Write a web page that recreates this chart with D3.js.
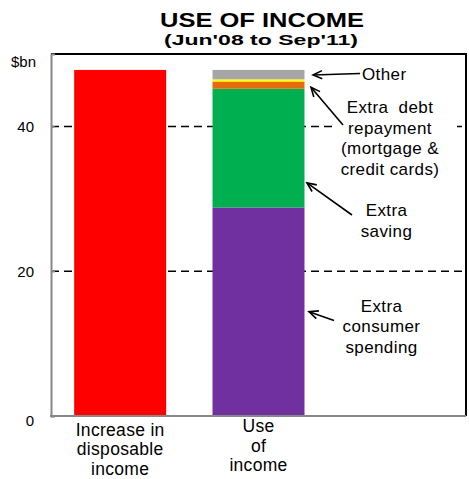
<!DOCTYPE html>
<html>
<head>
<meta charset="utf-8">
<script src="https://cdn.jsdelivr.net/npm/d3@7"></script>
<style>
  html, body { margin: 0; padding: 0; background: #fff; }
  svg { display: block; font-family: "Liberation Sans", Arial, sans-serif; }
  .note { white-space: pre; }
</style>
</head>
<body>
<svg id="chart" width="469" height="479"></svg>
<script>
// Categories along the x axis (third slot left empty)
const categories = ["income", "use", "blank"];
const categoryLabels = [["Increase in", "disposable", "income"], ["Use", "of", "income"], []];

// Single bar: increase in disposable income ($bn)
const incomeIncrease = 47.8;

// Stacked bar: how the extra income was used ($bn), bottom to top
const useSegments = ["Extra consumer spending", "Extra saving", "Mortgage repayment", "Credit card repayment", "Other"];
const useValues = [28.8, 16.4, 1.0, 0.3, 1.3];
const useColors = ["#7030A0", "#00B050", "#E46C0A", "#FFFF00", "#A6A6A6"];

// Y axis ticks
const yTicks = [0, 20, 40];
const gridTicks = [20, 40];

const svg = d3.select("#chart");
const margin = { left: 51, right: 3, top: 54, bottom: 63 };
const W = 469, H = 479;

const x = d3.scaleBand()
  .domain(categories)
  .range([margin.left, W - margin.right])
  .paddingInner(0.335)
  .paddingOuter(0.1675);

const y = d3.scaleLinear()
  .domain([0, 50])
  .range([H - margin.bottom, margin.top]);

// Title (wide, stretched lettering)
svg.append("text")
  .attr("x", 160).attr("y", 27)
  .attr("font-size", 20).attr("font-weight", "bold")
  .attr("textLength", 204).attr("lengthAdjust", "spacingAndGlyphs")
  .text("USE OF INCOME");
svg.append("text")
  .attr("x", 164).attr("y", 45)
  .attr("font-size", 14.5).attr("font-weight", "bold")
  .attr("textLength", 194).attr("lengthAdjust", "spacingAndGlyphs")
  .text("(Jun'08 to Sep'11)");

// Dashed gridlines
svg.append("g").selectAll("line")
  .data(gridTicks)
  .join("line")
  .attr("x1", margin.left).attr("x2", W - margin.right)
  .attr("y1", d => y(d)).attr("y2", d => y(d))
  .attr("stroke", "#000").attr("stroke-width", 1.5)
  .attr("stroke-dasharray", "8,5");

// Frame: black top and right edges
svg.append("path")
  .attr("d", `M${margin.left},${y(50)}H${W - margin.right}V${y(0)}`)
  .attr("fill", "none").attr("stroke", "#000").attr("stroke-width", 2);

// Bars
svg.append("rect")
  .attr("x", x("income")).attr("width", x.bandwidth())
  .attr("y", y(incomeIncrease)).attr("height", y(0) - y(incomeIncrease))
  .attr("fill", "#FF0000");

const stacked = [];
let acc = 0;
useValues.forEach((v, i) => { stacked.push({ y0: acc, y1: acc + v, color: useColors[i], name: useSegments[i] }); acc += v; });
svg.append("g").selectAll("rect")
  .data(stacked)
  .join("rect")
  .attr("x", x("use")).attr("width", x.bandwidth())
  .attr("y", d => y(d.y1)).attr("height", d => y(d.y0) - y(d.y1))
  .attr("fill", d => d.color);

// Left axis
const yAxis = svg.append("g")
  .attr("transform", `translate(${margin.left},0)`)
  .call(d3.axisLeft(y).tickValues(yTicks).tickSize(-4).tickPadding(17).tickFormat(d3.format("d")));
yAxis.select(".domain").attr("stroke", "#888").attr("stroke-width", 2);
yAxis.selectAll(".tick line").attr("stroke", "#888").attr("stroke-width", 1.5);
yAxis.selectAll(".tick text").attr("font-size", 15).attr("fill", "#000")
  .attr("font-family", "Liberation Sans, Arial, sans-serif");
yAxis.select(".tick text").attr("dy", "0.6em");

svg.append("text")
  .attr("x", 36).attr("y", 66.5)
  .attr("text-anchor", "end").attr("font-size", 15)
  .text("$bn");

// Bottom axis line
svg.append("line")
  .attr("x1", margin.left - 1).attr("x2", W - margin.right)
  .attr("y1", y(0)).attr("y2", y(0))
  .attr("stroke", "#888").attr("stroke-width", 2);

// Category labels
const labelBase = [435.5, 432];
categories.forEach((c, i) => {
  const cx = x(c) + x.bandwidth() / 2;
  const t = svg.append("text")
    .attr("text-anchor", "middle").attr("font-size", 17.5)
    .attr("letter-spacing", 0.3);
  categoryLabels[i].forEach((line, j) => {
    t.append("tspan").attr("x", cx).attr("y", labelBase[i] + j * 19.7).text(line);
  });
});

// Annotations with arrows pointing at stack segments
const annotations = [
  { lines: ["Other"], anchor: "start", tx: 362, ty: 80, head: [313, 47.1], tail: [360, 73.5] },
  { lines: ["Extra  debt", "repayment", "(mortgage &", "credit cards)"], anchor: "middle", tx: 390, ty: 113, head: [311, 45.4], tail: [343, 125], box: [336, 96, 121, 86] },
  { lines: ["Extra", "saving"], anchor: "middle", tx: 386.5, ty: 216, head: [307, 32.2], tail: [352, 215] },
  { lines: ["Extra", "consumer", "spending"], anchor: "middle", tx: 381.5, ty: 311.5, head: [309, 14.4], tail: [334, 320.5] }
];

annotations.forEach(a => {
  if (a.box) {
    svg.append("rect")
      .attr("x", a.box[0]).attr("y", a.box[1]).attr("width", a.box[2]).attr("height", a.box[3])
      .attr("fill", "#fff");
  }
  const hx = a.head[0], hy = y(a.head[1]);
  const tx = a.tail[0], ty = a.tail[1];
  svg.append("line")
    .attr("x1", tx).attr("y1", ty).attr("x2", hx).attr("y2", hy)
    .attr("stroke", "#000").attr("stroke-width", 1.6);
  const ang = Math.atan2(hy - ty, hx - tx);
  const len = 10, spread = 0.42;
  const p1 = [hx - len * Math.cos(ang - spread), hy - len * Math.sin(ang - spread)];
  const p2 = [hx - len * Math.cos(ang + spread), hy - len * Math.sin(ang + spread)];
  svg.append("path")
    .attr("d", `M${p1[0]},${p1[1]}L${hx},${hy}L${p2[0]},${p2[1]}`)
    .attr("fill", "none").attr("stroke", "#000").attr("stroke-width", 1.6);
  const t = svg.append("text").attr("class", "note")
    .attr("text-anchor", a.anchor).attr("font-size", 17)
    .attr("letter-spacing", 0.4);
  a.lines.forEach((line, j) => {
    t.append("tspan").attr("x", a.tx).attr("y", a.ty + j * 20.7).text(line);
  });
});
</script>
</body>
</html>
